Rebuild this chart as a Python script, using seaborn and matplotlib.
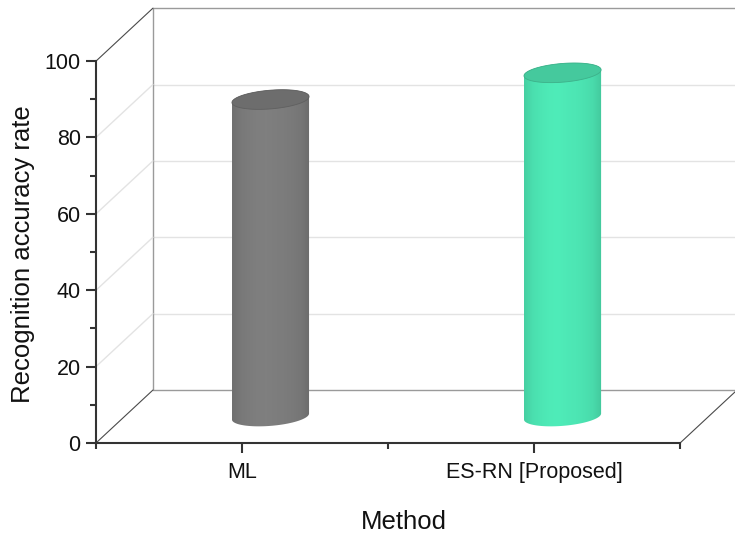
import numpy as np
import pandas as pd
import matplotlib
matplotlib.use("Agg")
import matplotlib.pyplot as plt
from matplotlib.patches import Polygon
from matplotlib.colors import LinearSegmentedColormap, to_rgb
import seaborn as sns

# Data
methods = ["ML", "ES-RN [Proposed]"]
accuracy = [83, 90]
body_colors = ["#7c7c7c", "#4de6b4"]
top_colors = ["#6d6d6d", "#45c99d"]

y_ticks = [0, 20, 40, 60, 80, 100]

sns.set_theme(style="white")
plt.rcParams["font.family"] = ["Liberation Sans", "DejaVu Sans"]

W, H = 735, 534
fig = plt.figure(figsize=(W / 100, H / 100), dpi=100)
ax = fig.add_axes([96 / W, 91 / H, (W - 96) / W, 443 / H])

df = pd.DataFrame({"Method": methods, "Accuracy": accuracy})
sns.barplot(data=df, x="Method", y="Accuracy", width=0.264, ax=ax,
            color="#808080")

# oblique depth offset of the 3D box (data units)
DX, DY = 0.195, 13.87
ax.set_xlim(-0.5, 1.688)
ax.set_ylim(0, 116.0)

# back wall, floor and side-wall guide lines
grid_c = "#e3e3e3"
edge_c = "#9a9a9a"
dark_c = "#4a4a4a"
for v in y_ticks:
    c = edge_c if v in (0, 100) else grid_c
    ax.plot([-0.5 + DX, 1.5 + DX + 0.3], [v + DY, v + DY], color=c, lw=1.0,
            zorder=0.5, solid_capstyle="butt")
    dc = dark_c if v in (0, 100) else grid_c
    ax.plot([-0.5, -0.5 + DX], [v, v + DY], color=dc,
            lw=0.8 if v in (0, 100) else 1.0, zorder=0.6)
ax.plot([-0.5 + DX, -0.5 + DX], [DY, 100 + DY], color=edge_c, lw=1.0, zorder=0.5)
ax.plot([1.5, 1.5 + DX], [0, DY], color=dark_c, lw=0.8, zorder=0.6)


def ellipse_pts(cx, cy, a, b, k, t):
    x = cx + a * np.cos(t)
    y = cy + b * np.sin(t) + k * a * np.cos(t)
    return np.column_stack([x, y])


B_ELL = 2.45    # vertical half-axis of the elliptical faces
K_TILT = 5.95   # slope of the elliptical faces in data units

for i, patch in enumerate(list(ax.patches)):
    x0 = patch.get_x()
    w = patch.get_width()
    h = patch.get_height()
    patch.set_visible(False)
    cx = x0 + w / 2 + DX / 2
    a = w / 2
    ybot = DY / 2
    ytop = h + DY / 2

    t_low = np.linspace(np.pi, 2 * np.pi, 80)
    t_up = np.linspace(0, np.pi, 80)
    body = np.vstack([
        ellipse_pts(cx, ybot, a, B_ELL, K_TILT, t_low),
        ellipse_pts(cx, ytop, a, B_ELL, K_TILT, t_up),
    ])
    poly = Polygon(body, closed=True, facecolor="none", edgecolor="none", zorder=2)
    ax.add_patch(poly)

    base = np.array(to_rgb(body_colors[i]))
    prof = np.array([0.9, 0.97, 1.0, 1.02, 1.025, 1.01, 1.0, 0.98, 0.95, 0.87])
    cols = [tuple(np.clip(base * p, 0, 1)) for p in prof]
    cmap = LinearSegmentedColormap.from_list(f"cyl{i}", cols)
    grad = np.linspace(0, 1, 256).reshape(1, -1)
    im = ax.imshow(grad, cmap=cmap, aspect="auto",
                   extent=[cx - a, cx + a, ybot - 5, ytop + 5],
                   interpolation="bicubic", zorder=2)
    im.set_clip_path(poly)

    top = ellipse_pts(cx, ytop, a, B_ELL, K_TILT, np.linspace(0, 2 * np.pi, 160))
    ax.add_patch(Polygon(top, closed=True, facecolor=top_colors[i],
                         edgecolor=tuple(np.array(to_rgb(top_colors[i])) * 0.88),
                         lw=0.6, zorder=3))

ax.set_xlim(-0.5, 1.688)
ax.set_ylim(0, 116.0)

# front axes
for s in ["top", "right"]:
    ax.spines[s].set_visible(False)
ax.spines["left"].set_bounds(0, 100)
ax.spines["bottom"].set_bounds(-0.5, 1.5)
for s in ["left", "bottom"]:
    ax.spines[s].set_color("#333333")
    ax.spines[s].set_linewidth(1.5)
    ax.spines[s].set_visible(True)

ax.set_yticks(y_ticks)
ax.set_yticks([10, 30, 50, 70, 90], minor=True)
ax.set_xticks([0, 1])
ax.set_xticklabels(methods)
ax.set_xticks([-0.5, 0.5, 1.5], minor=True)
ax.tick_params(axis="both", which="major", direction="out", length=7, width=1.5,
               color="#333333", labelsize=15.5, labelcolor="#111111")
ax.tick_params(axis="both", which="minor", direction="out", length=4, width=1.5,
               color="#333333")
ax.tick_params(axis="y", which="major", pad=4)
ax.tick_params(axis="x", which="major", pad=7)
ax.tick_params(left=True, bottom=True, which="both")

ax.set_xlabel("Method", fontsize=18.5, color="#111111")
ax.set_ylabel("Recognition accuracy rate", fontsize=18.5, color="#111111")
ax.xaxis.set_label_coords((404 - 96) / 639, -(510 - 443) / 443)
ax.yaxis.set_label_coords((35 - 96) / 639, (443 - 254) / 443)
ax.grid(False)
ax.set_facecolor("white")
ax.patch.set_alpha(0)

fig.savefig("out.png", dpi=100)
